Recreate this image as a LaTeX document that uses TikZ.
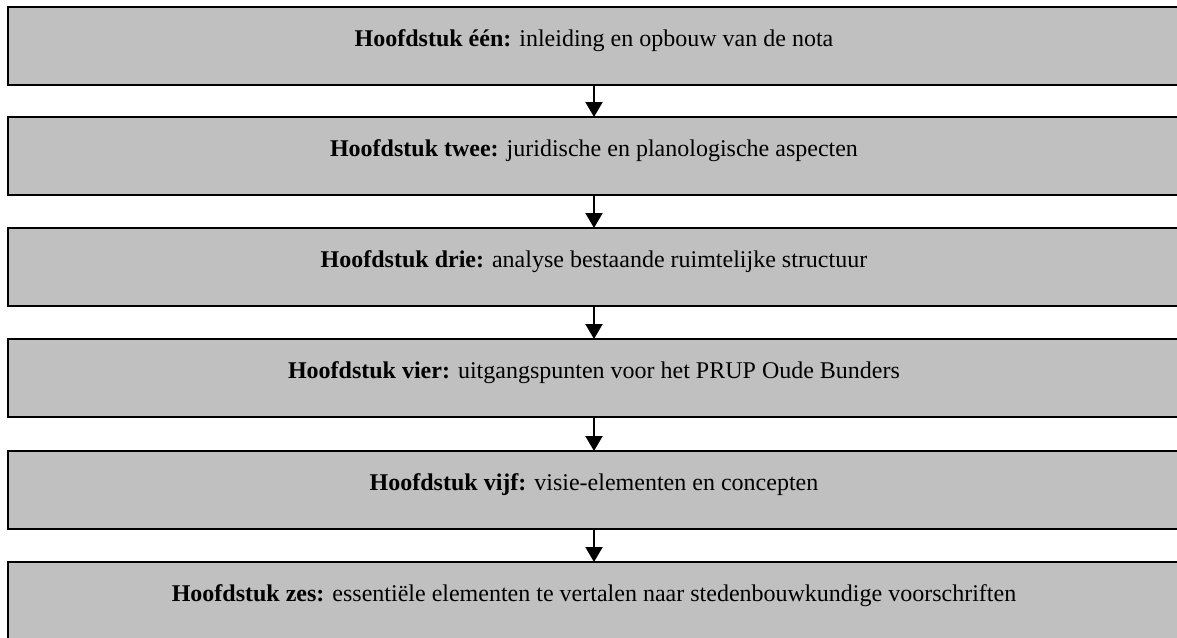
\documentclass[tikz,border=0pt]{standalone}
\usepackage{fontspec}
\setmainfont{Liberation Serif}
\usetikzlibrary{arrows.meta}
\begin{document}
\begin{tikzpicture}[x=1pt,y=-1pt,
  chapbox/.style={draw=black,line width=2pt,fill={rgb,255:red,192;green,192;blue,192},
    minimum width=1172pt,minimum height=78pt,inner sep=0pt,outer sep=0pt},
  chaptext/.style={anchor=base,inner sep=0pt,font=\fontsize{24}{28}\selectfont},
  flow/.style={line width=2pt,-{Triangle[length=15pt,width=17pt]}}]
\useasboundingbox (0,0) rectangle (1177,637);
\node[chapbox] (b1) at (594,46) {};
\node[chapbox] (b2) at (594,156) {};
\node[chapbox] (b3) at (594,267) {};
\node[chapbox] (b4) at (594,378) {};
\node[chapbox] (b5) at (594,490) {};
\node[chapbox] (b6) at (594,601) {};
\node[chaptext] (t1) at (b1.center) {\textbf{Hoofdstuk één:} inleiding en opbouw van de nota};
\node[chaptext] (t2) at (b2.center) {\textbf{Hoofdstuk twee:} juridische en planologische aspecten};
\node[chaptext] (t3) at (b3.center) {\textbf{Hoofdstuk drie:} analyse bestaande ruimtelijke structuur};
\node[chaptext] (t4) at (b4.center) {\textbf{Hoofdstuk vier:} uitgangspunten voor het PRUP Oude Bunders};
\node[chaptext] (t5) at (b5.center) {\textbf{Hoofdstuk vijf:} visie-elementen en concepten};
\node[chaptext] (t6) at (b6.center) {\textbf{Hoofdstuk zes:} essentiële elementen te vertalen naar stedenbouwkundige voorschriften};
\draw[flow] (b1.south) -- (b2.north);
\draw[flow] (b2.south) -- (b3.north);
\draw[flow] (b3.south) -- (b4.north);
\draw[flow] (b4.south) -- (b5.north);
\draw[flow] (b5.south) -- (b6.north);
\end{tikzpicture}
\end{document}
